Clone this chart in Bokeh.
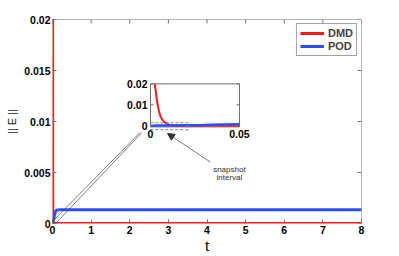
from bokeh.plotting import figure
from bokeh.models import (Range1d, Legend, LegendItem, Arrow, NormalHead, FixedTicker, Span)
from bokeh.core.properties import value
from bokeh.embed import file_html
from bokeh.resources import INLINE

# ---------------- data ----------------
t_dmd = [0, 0.001, 0.002, 0.0024, 0.003, 0.0038, 0.0047, 0.0056, 0.007, 0.0082,
         0.0094, 0.011, 0.013, 0.016, 0.02, 0.03, 0.05, 0.1, 1, 8]
e_dmd = [0.034, 0.026, 0.0215, 0.02, 0.0163, 0.011, 0.0073, 0.0045, 0.0025, 0.0015,
         0.0009, 0.0004, 0.0001, 0.00004, 0.00002, 0.00001, 0.000005, 0.000002,
         0.000001, 0.000001]
t_pod = [0, 0.005, 0.01, 0.02, 0.03, 0.04, 0.05, 0.07, 0.1, 0.13, 0.2, 1, 8]
e_pod = [0.0001, 0.00015, 0.0002, 0.0003, 0.0004, 0.0006, 0.0008, 0.0011, 0.0013,
         0.00133, 0.00134, 0.00134, 0.00134]

x_ticks = [0, 1, 2, 3, 4, 5, 6, 7, 8]
y_ticks = [0, 0.005, 0.01, 0.015, 0.02]
y_tick_labels = ["0", "0.005", "0.01", "0.015", "0.02"]

inset_xlim = (0, 0.05)
inset_ylim = (-0.0005, 0.02)
inset_xticks = [0, 0.05]
inset_xtick_labels = ["0", "0.05"]
inset_yticks = [0, 0.01, 0.02]
inset_ytick_labels = ["0", "0.01", "0.02"]
snapshot_x = (0, 0.0213)
snapshot_y = (-0.0018, 0.00148)

# inset placement in main-axes data coordinates
inset_box_x = (2.537, 4.841)
inset_box_y = (0.00947, 0.01369)

RED = "#ff1a1a"
BLUE = "#2f4dff"
GRAY = "#6e6e6e"
FONT = "Liberation Sans"

W, H = 399, 256
BL, BR, BT, BB = 52, 38, 19, 31
FW, FH = W - BL - BR, H - BT - BB

p = figure(width=W, height=H, output_backend="svg", toolbar_location=None,
           x_range=Range1d(0, 8), y_range=Range1d(0, 0.02),
           min_border_left=BL, min_border_right=BR, min_border_top=BT, min_border_bottom=BB)
p.xgrid.visible = False
p.ygrid.visible = False
p.outline_line_color = None
p.background_fill_color = "white"
p.border_fill_color = "white"

def style_axis(ax):
    ax.axis_line_color = None
    ax.major_tick_line_color = GRAY
    ax.major_tick_in = 4
    ax.major_tick_out = 0
    ax.minor_tick_line_color = None
    ax.major_label_text_font = FONT
    ax.major_label_text_font_style = "bold"
    ax.major_label_text_font_size = "10.5px"
    ax.major_label_text_color = "black"

xax = p.xaxis[0]
yax = p.yaxis[0]
xax.ticker = FixedTicker(ticks=x_ticks)
yax.ticker = FixedTicker(ticks=y_ticks)
yax.major_label_overrides = {v: l for v, l in zip(y_ticks, y_tick_labels)}
style_axis(xax)
style_axis(yax)
xax.major_label_standoff = 2
yax.major_label_standoff = 2
xax.axis_label = "t"
xax.axis_label_text_font = FONT
xax.axis_label_text_font_style = "normal"
xax.axis_label_text_font_size = "15px"
xax.axis_label_text_color = "black"
xax.axis_label_standoff = 0
yax.axis_label = "|| E ||"
yax.axis_label_text_font = FONT
yax.axis_label_text_font_style = "normal"
yax.axis_label_text_font_size = "11px"
yax.axis_label_text_color = "#222222"
yax.axis_label_standoff = 3

# box edges on top and right
p.add_layout(Span(location=0.02, dimension="width", line_color=GRAY, line_width=1))
p.add_layout(Span(location=8, dimension="height", line_color=GRAY, line_width=1))

# inward ticks on top and right edges (box axes)
tx = 4 / FW * 8
ty = 4 / FH * 0.02
p.segment(x0=x_ticks, y0=[0.02] * len(x_ticks), x1=x_ticks, y1=[0.02 - ty] * len(x_ticks),
          line_color=GRAY, line_width=1)
p.segment(x0=[8] * len(y_ticks), y0=y_ticks, x1=[8 - tx] * len(y_ticks), y1=y_ticks,
          line_color=GRAY, line_width=1)

# main curves
r_dmd = p.line(t_dmd, e_dmd, line_color=RED, line_width=3)
r_pod = p.line(t_pod, e_pod, line_color=BLUE, line_width=3)

# zoom callout lines (from origin region toward inset)
p.line([0.0, 2.262], [0.0002, 0.0089], line_color="#444444", line_width=0.7)
p.line([0.08, 2.31], [0.0, 0.0089], line_color="#444444", line_width=0.7)

# inset via sub-coordinates
sub = p.subplot(x_source=Range1d(*inset_xlim), y_source=Range1d(*inset_ylim),
                x_target=Range1d(*inset_box_x), y_target=Range1d(*inset_box_y))
sub.quad(left=[inset_xlim[0]], right=[inset_xlim[1]], bottom=[inset_ylim[0]],
         top=[inset_ylim[1]], fill_color="white", line_color=GRAY, line_width=1)

ti_d = [t for t, e in zip(t_dmd, e_dmd) if t <= inset_xlim[1] and e <= inset_ylim[1]]
ei_d = [e for t, e in zip(t_dmd, e_dmd) if t <= inset_xlim[1] and e <= inset_ylim[1]]
ti_p = [t for t in t_pod if t <= inset_xlim[1]]
ei_p = [e for t, e in zip(t_pod, e_pod) if t <= inset_xlim[1]]
sub.line(ti_d, ei_d, line_color=RED, line_width=2)
sub.line(ti_p, ei_p, line_color=BLUE, line_width=2.5)

# inset ticks (left and right, inward)
tick_len = 0.0017
sub.segment(x0=[inset_xlim[0]] * len(inset_yticks), y0=inset_yticks,
            x1=[inset_xlim[0] + tick_len] * len(inset_yticks), y1=inset_yticks,
            line_color=GRAY, line_width=1)
sub.segment(x0=[inset_xlim[1]] * len(inset_yticks), y0=inset_yticks,
            x1=[inset_xlim[1] - tick_len] * len(inset_yticks), y1=inset_yticks,
            line_color=GRAY, line_width=1)
sub.text(x=[inset_xlim[0]] * len(inset_yticks), y=inset_yticks, text=inset_ytick_labels,
         x_offset=-3, text_align="right", text_baseline="middle",
         text_font=value(FONT), text_font_style="bold", text_font_size="10.5px",
         text_color="black")
sub.text(x=inset_xticks, y=[inset_ylim[0]] * len(inset_xticks), text=inset_xtick_labels,
         y_offset=3, text_align="center", text_baseline="top",
         text_font=value(FONT), text_font_style="bold", text_font_size="10.5px",
         text_color="black")

# snapshot interval dashed rectangle
sx0, sx1 = snapshot_x
sy0, sy1 = snapshot_y
sub.line([sx0, sx1, sx1, sx0, sx0], [sy1, sy1, sy0, sy0, sy1],
         line_color="#8a8a8a", line_width=1, line_dash="3 2")

# arrow and annotation text (main coords)
p.add_layout(Arrow(end=NormalHead(size=7, fill_color="#333333", line_color="#333333"),
                   x_start=4.09, y_start=0.00602, x_end=2.977, y_end=0.00883,
                   line_color="#555555", line_width=0.8))
p.text(x=[4.58, 4.58], y=[0.00534, 0.00447], text=["snapshot", "interval"],
       text_align="center", text_baseline="middle", text_font=value(FONT),
       text_font_size="8px", text_color="#333333")

legend = Legend(items=[LegendItem(label="DMD", renderers=[r_dmd]),
                       LegendItem(label="POD", renderers=[r_pod])],
                location="top_right", margin=4, padding=3, spacing=1,
                glyph_width=24, glyph_height=12, label_height=12, label_standoff=4,
                label_text_font=FONT, label_text_font_style="bold",
                label_text_font_size="11px", border_line_color="#444444",
                border_line_width=1, background_fill_alpha=1)
p.add_layout(legend)

open("out.html", "w").write(file_html(p, INLINE))
